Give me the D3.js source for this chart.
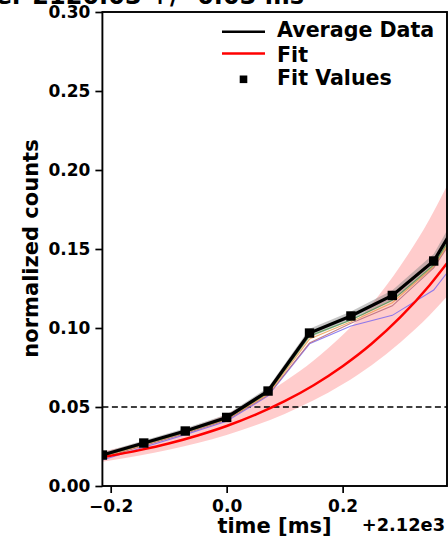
<!DOCTYPE html>
<html><head><meta charset="utf-8">
<script src="https://cdn.jsdelivr.net/npm/d3@7"></script>
<style>body{margin:0;background:#fff}svg{display:block}text{font-family:"DejaVu Sans",sans-serif;font-weight:bold;fill:#000}</style>
</head><body><svg id="c" width="448" height="540"></svg>
<script>
// ---- data ----
const times = [-0.2143,-0.1429,-0.0714,0,0.0714,0.1429,0.2143,0.2857,0.3571,0.4286];
const avgData = [0.0196,0.0272,0.0348,0.0434,0.0601,0.0968,0.1076,0.1206,0.1424,0.186];
const avgSpread = [0.0016,0.0016,0.0017,0.0019,0.0022,0.0028,0.0028,0.0033,0.0045,0.007];
const runGreen = [0.0190,0.0265,0.0340,0.0425,0.0590,0.0950,0.1050,0.1175,0.1400,0.182];
const runOrange = [0.0186,0.0262,0.0338,0.0422,0.0582,0.0930,0.1040,0.1160,0.1390,0.180];
const runBrown = [0.0178,0.0255,0.0332,0.0418,0.0575,0.0905,0.1030,0.1140,0.1380,0.178];
const runPurple = [0.0165,0.0245,0.0325,0.0410,0.0570,0.0900,0.1013,0.1080,0.1240,0.158];
const fitTimes = [-0.2143,-0.15,-0.1,-0.05,0,0.05,0.1,0.15,0.2,0.25,0.3,0.35,0.38];
const fitVals = [0.0182,0.0227,0.0269,0.0320,0.0380,0.0452,0.0537,0.0638,0.0758,0.0900,0.1070,0.1271,0.1410];
const fitUpper = [0.0218,0.0272,0.0323,0.0384,0.0456,0.0550,0.0662,0.0795,0.0955,0.1150,0.1395,0.1690,0.1900];
const fitLower = [0.0154,0.0193,0.0229,0.0272,0.0323,0.0384,0.0456,0.0542,0.0644,0.0765,0.0910,0.1080,0.1199];
const threshold = 0.05;
const yTicks = [0.00,0.05,0.10,0.15,0.20,0.25,0.30];
const xTicks = [-0.2,0.0,0.2];
const titleText = "Center 2120.03 +/- 0.03 ms";
const xLabel = "time [ms]", yLabel = "normalized counts", offsetText = "+2.12e3";
const legendItems = ["Average Data","Fit","Fit Values"];

// ---- layout ----
const svg = d3.select("#c");
const L = 102.4, R = 447, T = 12, B = 486;
const x = d3.scaleLinear().domain([-0.2143, 0.38]).range([L, R]);
const y = d3.scaleLinear().domain([0, 0.30]).range([B, T]);

svg.append("clipPath").attr("id","clip").append("rect").attr("x",L).attr("y",T).attr("width",R-L).attr("height",B-T);
const g = svg.append("g").attr("clip-path","url(#clip)");

// fit band
const fitRows = fitTimes.map((t,i)=>({t, v:fitVals[i], u:fitUpper[i], l:fitLower[i]}));
g.append("path").datum(fitRows)
 .attr("d", d3.area().x(d=>x(d.t)).y0(d=>y(d.l)).y1(d=>y(d.u)).curve(d3.curveMonotoneX))
 .attr("fill","#ff0000").attr("fill-opacity",0.2);

// threshold
g.append("line").attr("x1",L).attr("x2",R).attr("y1",y(threshold)).attr("y2",y(threshold))
 .attr("stroke","#000").attr("stroke-width",1.7).attr("stroke-dasharray","6,3.5");

// avg spread band
const avgRows = times.map((t,i)=>({t, v:avgData[i], s:avgSpread[i]}));
g.append("path").datum(avgRows)
 .attr("d", d3.area().x(d=>x(d.t)).y0(d=>y(d.v-d.s)).y1(d=>y(d.v+d.s)))
 .attr("fill","#808080").attr("fill-opacity",0.45);

// individual runs
const lineGen = d3.line().x(d=>x(d[0])).y(d=>y(d[1]));
[[runPurple,"#7b68ee"],[runBrown,"#b86a78"],[runOrange,"#f0a050"],[runGreen,"#4f9a4f"]].forEach(([arr,col])=>{
  g.append("path").datum(times.map((t,i)=>[t,arr[i]])).attr("d",lineGen)
   .attr("fill","none").attr("stroke",col).attr("stroke-width",1.1).attr("stroke-opacity",0.85);
});

// fit line
g.append("path").datum(fitRows).attr("d", d3.line().x(d=>x(d.t)).y(d=>y(d.v)).curve(d3.curveMonotoneX))
 .attr("fill","none").attr("stroke","#ff0000").attr("stroke-width",2.5);

// avg line
g.append("path").datum(avgRows).attr("d", d3.line().x(d=>x(d.t)).y(d=>y(d.v)))
 .attr("fill","none").attr("stroke","#000").attr("stroke-width",3.2);
g.selectAll("rect.pt").data(avgRows).enter().append("rect").attr("class","pt")
 .attr("x",d=>x(d.t)-4.7).attr("y",d=>y(d.v)-4.7).attr("width",9.4).attr("height",9.4).attr("fill","#000");

// axes
const yAxis = d3.axisLeft(y).tickValues(yTicks).tickFormat(d3.format(".2f")).tickSize(7).tickPadding(5);
const xAxis = d3.axisBottom(x).tickValues(xTicks).tickFormat(d=>d3.format(".1f")(d).replace("-","\u2212")).tickSize(7).tickPadding(5);
const ya = svg.append("g").attr("transform",`translate(${L},0)`).call(yAxis);
const xa = svg.append("g").attr("transform",`translate(0,${B})`).call(xAxis);
[ya,xa].forEach(a=>{
  a.select(".domain").remove();
  a.selectAll(".tick line").attr("stroke","#000").attr("stroke-width",1.7);
  a.selectAll(".tick text").style("font-size","17px").style("font-family","DejaVu Sans").style("font-weight","bold").attr("fill","#000");
});
xa.selectAll(".tick text").attr("dy","0.85em");
// spines
svg.append("rect").attr("x",L).attr("y",T).attr("width",R-L).attr("height",B-T)
 .attr("fill","none").attr("stroke","#000").attr("stroke-width",1.9);

// labels
svg.append("text").attr("x",304).attr("y",4).attr("text-anchor","end").style("font-size","24px").text(titleText);
svg.append("text").attr("x",274.5).attr("y",532.5).attr("text-anchor","middle").style("font-size","21px").text(xLabel);
svg.append("text").attr("x",445).attr("y",531).attr("text-anchor","end").style("font-size","17.8px").text(offsetText);
svg.append("text").attr("transform","translate(37.5,248.5) rotate(-90)").attr("text-anchor","middle").style("font-size","21px").text(yLabel);

// legend
const lg = svg.append("g");
const rows = [37.3, 61.6, 85];
lg.append("line").attr("x1",222).attr("x2",265).attr("y1",31.7).attr("y2",31.7).attr("stroke","#000").attr("stroke-width",2.6);
lg.append("line").attr("x1",222).attr("x2",265).attr("y1",53.5).attr("y2",53.5).attr("stroke","#ff0000").attr("stroke-width",2.6);
lg.append("rect").attr("x",243.5-3.8).attr("y",79.3-3.8).attr("width",7.6).attr("height",7.6).attr("fill","#000");
legendItems.forEach((s,i)=>lg.append("text").attr("x",277).attr("y",rows[i]).style("font-size","20.6px").text(s));
</script></body></html>
